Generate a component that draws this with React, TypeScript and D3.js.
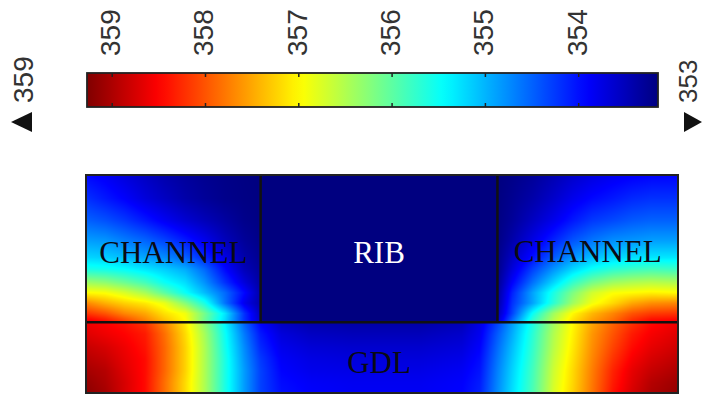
import React, { useEffect, useState } from 'react';
import * as d3 from 'd3';

// ---- colour range (K) ----
const T_MIN = 353.15;
const T_MAX = 359.27;
const colorbarTicks = [359, 358, 357, 356, 355, 354];
const maxLabel = '359';
const minLabel = '353';

// ---- geometry (mm) ----
const domainWidth = 2.0;
const domainHeight = 0.74;
const gdlThickness = 0.24;
const ribStart = 0.59;
const ribEnd = 1.39;

// ---- temperature samples (K) ----
const xLeftChannel = [0, 0.065, 0.13, 0.2, 0.265, 0.335, 0.4, 0.47, 0.535, 0.59];
const xRightChannel = [1.39, 1.44, 1.51, 1.58, 1.645, 1.71, 1.78, 1.845, 1.91, 2.0];
const yChannel = [0.24, 0.27, 0.305, 0.34, 0.375, 0.42, 0.46, 0.52, 0.585, 0.66, 0.74];

const tLeftChannel = [
  [358.7, 358.5, 358.2, 357.8, 357.4, 357.0, 356.1, 355.2, 354.2, 353.6],
  [358.2, 358.0, 357.7, 357.5, 357.15, 356.9, 356.15, 355.3, 354.2, 353.5],
  [357.7, 357.45, 357.25, 357.1, 356.85, 356.25, 355.6, 354.6, 353.8, 353.4],
  [357.0, 356.95, 356.75, 356.45, 356.0, 355.5, 355.05, 354.55, 353.95, 353.4],
  [356.4, 356.3, 356.1, 355.85, 355.5, 355.25, 354.8, 354.2, 353.7, 353.35],
  [355.6, 355.55, 355.45, 355.3, 355.15, 354.95, 354.55, 353.95, 353.5, 353.3],
  [355.2, 355.15, 355.05, 354.9, 354.75, 354.5, 354.15, 353.75, 353.4, 353.25],
  [354.85, 354.8, 354.65, 354.5, 354.3, 354.05, 353.8, 353.5, 353.3, 353.2],
  [354.5, 354.4, 354.25, 354.05, 353.85, 353.65, 353.5, 353.35, 353.22, 353.17],
  [354.2, 354.05, 353.9, 353.7, 353.55, 353.4, 353.3, 353.22, 353.18, 353.16],
  [353.95, 353.85, 353.7, 353.55, 353.42, 353.32, 353.25, 353.2, 353.17, 353.15],
];

const tRightChannel = [
  [353.6, 354.6, 355.8, 356.6, 357.2, 357.6, 357.9, 358.3, 358.55, 358.6],
  [353.45, 354.3, 355.5, 356.4, 357.0, 357.4, 357.7, 358.0, 358.15, 358.2],
  [353.35, 354.2, 354.9, 355.7, 356.4, 356.9, 357.2, 357.5, 357.65, 357.7],
  [353.3, 354.1, 354.9, 355.6, 356.2, 356.7, 356.95, 357.0, 357.05, 357.0],
  [353.25, 353.9, 354.6, 355.2, 355.75, 356.15, 356.4, 356.5, 356.55, 356.5],
  [353.2, 353.7, 354.3, 354.8, 355.2, 355.5, 355.7, 355.8, 355.85, 355.8],
  [353.2, 353.55, 354.0, 354.45, 354.8, 355.05, 355.2, 355.25, 355.3, 355.3],
  [353.17, 353.4, 353.75, 354.1, 354.4, 354.6, 354.75, 354.8, 354.85, 354.85],
  [353.16, 353.3, 353.55, 353.8, 354.05, 354.25, 354.35, 354.45, 354.5, 354.5],
  [353.15, 353.25, 353.4, 353.6, 353.8, 353.95, 354.05, 354.15, 354.2, 354.2],
  [353.15, 353.2, 353.3, 353.45, 353.6, 353.72, 353.82, 353.88, 353.92, 353.93],
];

const xGdl = [
  0, 0.065, 0.13, 0.2, 0.265, 0.335, 0.4, 0.47, 0.535, 0.59,
  0.66, 0.76, 0.9, 1.0, 1.13, 1.27, 1.33,
  1.39, 1.44, 1.51, 1.58, 1.645, 1.71, 1.78, 1.845, 1.91, 2.0,
];
const yGdl = [0, 0.035, 0.075, 0.115, 0.155, 0.2, 0.24];
const tGdl = [
  [359.2, 359.05, 358.75, 358.45, 357.85, 357.2, 356.5, 355.6, 354.85, 354.3,
    354.0, 353.9, 353.85, 353.85, 353.85, 353.92, 354.1,
    354.75, 355.25, 355.9, 356.75, 357.25, 357.8, 358.4, 358.75, 359.0, 359.15],
  [359.15, 359.0, 358.75, 358.45, 357.85, 357.2, 356.5, 355.6, 354.85, 354.3,
    353.97, 353.87, 353.83, 353.83, 353.83, 353.9, 354.07,
    354.72, 355.22, 355.88, 356.72, 357.22, 357.78, 358.35, 358.7, 358.95, 359.1],
  [359.05, 358.95, 358.7, 358.45, 357.9, 357.25, 356.5, 355.6, 354.85, 354.3,
    353.92, 353.8, 353.77, 353.77, 353.77, 353.85, 354.02,
    354.68, 355.18, 355.85, 356.68, 357.2, 357.75, 358.3, 358.65, 358.85, 359.0],
  [358.95, 358.85, 358.65, 358.45, 357.9, 357.25, 356.5, 355.6, 354.8, 354.25,
    353.87, 353.75, 353.7, 353.7, 353.7, 353.78, 353.97,
    354.62, 355.12, 355.8, 356.62, 357.15, 357.7, 358.2, 358.55, 358.75, 358.9],
  [358.85, 358.75, 358.6, 358.4, 357.9, 357.25, 356.5, 355.55, 354.75, 354.15,
    353.8, 353.67, 353.62, 353.62, 353.62, 353.7, 353.9,
    354.55, 355.05, 355.75, 356.55, 357.1, 357.65, 358.1, 358.45, 358.65, 358.8],
  [358.7, 358.6, 358.5, 358.35, 357.85, 357.2, 356.45, 355.5, 354.65, 354.05,
    353.7, 353.55, 353.5, 353.5, 353.5, 353.6, 353.82,
    354.45, 354.95, 355.7, 356.5, 357.05, 357.6, 358.0, 358.35, 358.55, 358.7],
  [358.6, 358.5, 358.4, 358.2, 357.7, 357.1, 356.3, 355.4, 354.5, 353.9,
    353.55, 353.42, 353.38, 353.38, 353.38, 353.48, 353.75,
    354.3, 354.85, 355.6, 356.4, 357.0, 357.5, 357.9, 358.2, 358.45, 358.6],
];

const regionLabels = ['CHANNEL', 'RIB', 'CHANNEL', 'GDL'];

// ---- layout ----
const W = 703;
const H = 398;
const plot = { left: 86, right: 678, top: 175, bottom: 393 };
const bar = { left: 87, right: 658, top: 73, bottom: 107 };

function jet(t: number): [number, number, number] {
  const c = (v: number) => Math.max(0, Math.min(1, v));
  return [c(1.5 - Math.abs(4 * t - 3)), c(1.5 - Math.abs(4 * t - 2)), c(1.5 - Math.abs(4 * t - 1))];
}
function jetCss(t: number) {
  const [r, g, b] = jet(t);
  return `rgb(${Math.round(r * 255)},${Math.round(g * 255)},${Math.round(b * 255)})`;
}

function bilinear(xs: number[], ys: number[], grid: number[][], x: number, y: number) {
  const clampI = (i: number, n: number) => Math.max(0, Math.min(n - 2, i));
  const i = clampI(d3.bisectRight(xs, x) - 1, xs.length);
  const j = clampI(d3.bisectRight(ys, y) - 1, ys.length);
  const tx = Math.max(0, Math.min(1, (x - xs[i]) / (xs[i + 1] - xs[i])));
  const ty = Math.max(0, Math.min(1, (y - ys[j]) / (ys[j + 1] - ys[j])));
  const a = grid[j][i] * (1 - tx) + grid[j][i + 1] * tx;
  const b = grid[j + 1][i] * (1 - tx) + grid[j + 1][i + 1] * tx;
  return a * (1 - ty) + b * ty;
}

export default function App() {
  const xScale = d3.scaleLinear().domain([0, domainWidth]).range([plot.left, plot.right]);
  const yScale = d3.scaleLinear().domain([0, domainHeight]).range([plot.bottom, plot.top]);
  const barScale = d3.scaleLinear().domain([T_MAX, T_MIN]).range([bar.left, bar.right]);
  const tNorm = d3.scaleLinear().domain([T_MIN, T_MAX]).range([0, 1]).clamp(true);

  const [href, setHref] = useState('');

  useEffect(() => {
    const pw = plot.right - plot.left;
    const ph = plot.bottom - plot.top;
    const canvas = document.createElement('canvas');
    canvas.width = pw;
    canvas.height = ph;
    const ctx = canvas.getContext('2d')!;
    const img = ctx.createImageData(pw, ph);
    for (let j = 0; j < ph; j++) {
      for (let i = 0; i < pw; i++) {
        const x = xScale.invert(plot.left + i + 0.5);
        const y = yScale.invert(plot.top + j + 0.5);
        let T: number;
        if (y >= gdlThickness) {
          if (x <= ribStart) T = bilinear(xLeftChannel, yChannel, tLeftChannel, x, y);
          else if (x >= ribEnd) T = bilinear(xRightChannel, yChannel, tRightChannel, x, y);
          else T = T_MIN;
        } else {
          T = bilinear(xGdl, yGdl, tGdl, x, y);
        }
        const [r, g, b] = jet(tNorm(T));
        const k = (j * pw + i) * 4;
        img.data[k] = r * 255;
        img.data[k + 1] = g * 255;
        img.data[k + 2] = b * 255;
        img.data[k + 3] = 255;
      }
    }
    ctx.putImageData(img, 0, 0);
    setHref(canvas.toDataURL());
  }, []);

  const stops = d3.range(0, 1.0001, 0.02);
  const interfaceY = yScale(gdlThickness);
  const channelMidY = 263;
  const numFont = "'Liberation Sans', Arial, sans-serif";

  return (
    <svg width={W} height={H} style={{ position: 'fixed', left: 0, top: 0, background: '#fff' }}>
      <defs>
        <linearGradient id="cbar" x1="0" x2="1" y1="0" y2="0">
          {stops.map((s) => (
            <stop key={s} offset={s} stopColor={jetCss(1 - s)} />
          ))}
        </linearGradient>
      </defs>

      {/* colour bar */}
      <rect x={bar.left} y={bar.top} width={bar.right - bar.left} height={bar.bottom - bar.top}
        fill="url(#cbar)" stroke="#222" strokeWidth={1.8} />
      {colorbarTicks.map((t) => (
        <g key={t}>
          <line x1={barScale(t)} x2={barScale(t)} y1={bar.top} y2={bar.top + 4} stroke="#222" strokeWidth={1.5} />
          <line x1={barScale(t)} x2={barScale(t)} y1={bar.bottom - 4} y2={bar.bottom} stroke="#222" strokeWidth={1.5} />
          <text transform={`translate(${barScale(t) - 1.5},${56}) rotate(-90)`} dominantBaseline="central"
            fontFamily={numFont} fontSize={28} fill="#333">{t}</text>
        </g>
      ))}

      {/* max / min markers */}
      <text transform={`translate(23,103) rotate(-90)`} dominantBaseline="central"
        fontFamily={numFont} fontSize={28} fill="#333">{maxLabel}</text>
      <path d={`M11,122 L32,112 L32,132 Z`} fill="#111" />
      <text transform={`translate(688,103) rotate(-90)`} dominantBaseline="central"
        fontFamily={numFont} fontSize={26} fill="#333">{minLabel}</text>
      <path d={`M702,122 L684,112 L684,132 Z`} fill="#111" />

      {/* temperature field */}
      {href && (
        <image href={href} x={plot.left} y={plot.top} width={plot.right - plot.left}
          height={plot.bottom - plot.top} preserveAspectRatio="none" />
      )}
      <rect x={xScale(ribStart)} y={plot.top} width={xScale(ribEnd) - xScale(ribStart)}
        height={interfaceY - plot.top} fill={jetCss(0)} />

      {/* domain lines */}
      <line x1={plot.left} x2={plot.right} y1={interfaceY} y2={interfaceY} stroke="#111" strokeWidth={2.5} />
      <line x1={xScale(ribStart)} x2={xScale(ribStart)} y1={plot.top} y2={interfaceY} stroke="#111" strokeWidth={2.5} />
      <line x1={xScale(ribEnd)} x2={xScale(ribEnd)} y1={plot.top} y2={interfaceY} stroke="#111" strokeWidth={2.5} />
      <rect x={plot.left} y={plot.top} width={plot.right - plot.left} height={plot.bottom - plot.top}
        fill="none" stroke="#222" strokeWidth={2} />

      {/* region labels */}
      <g fontFamily="'Liberation Serif', 'Times New Roman', serif" fontSize={31} textAnchor="middle">
        <text x={(xScale(0) + xScale(ribStart)) / 2} y={channelMidY} fill="#0a0a14">{regionLabels[0]}</text>
        <text x={(xScale(ribStart) + xScale(ribEnd)) / 2} y={channelMidY} fill="#fff">{regionLabels[1]}</text>
        <text x={(xScale(ribEnd) + xScale(domainWidth)) / 2} y={channelMidY - 1} fill="#0a0a14">{regionLabels[2]}</text>
        <text x={(xScale(ribStart) + xScale(ribEnd)) / 2} y={373} fill="#0a0a14">{regionLabels[3]}</text>
      </g>
    </svg>
  );
}
